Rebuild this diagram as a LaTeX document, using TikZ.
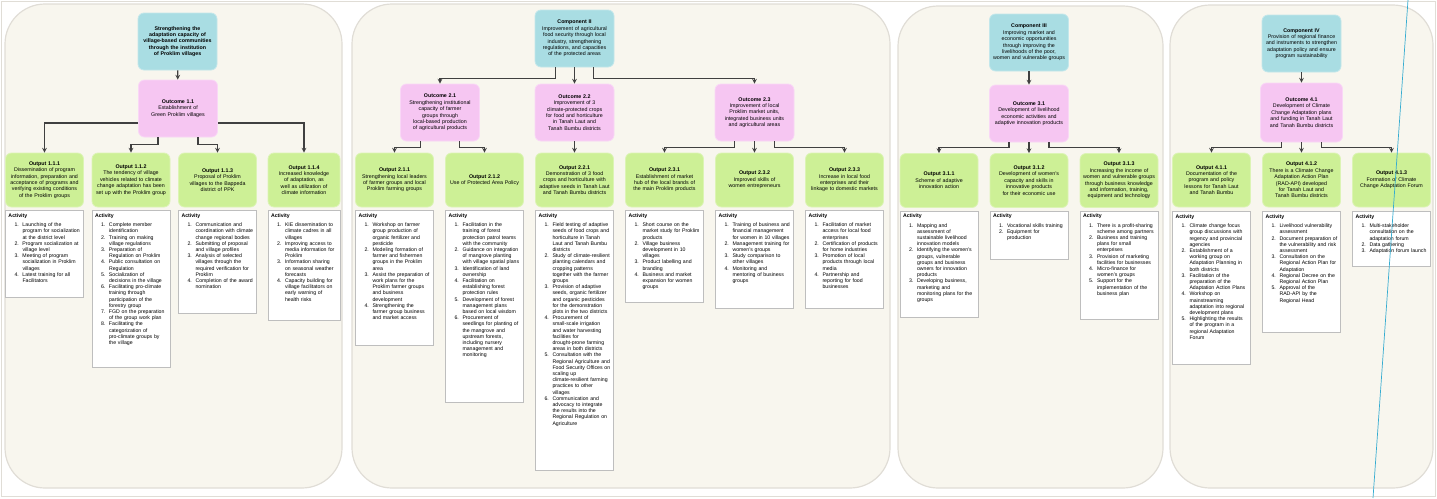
\documentclass[tikz,border=0pt]{standalone}
\usepackage{fontspec}
\setmainfont{Liberation Sans}
\usepackage{xcolor}
\usetikzlibrary{positioning}

\definecolor{panelcol}{HTML}{F8F6EE}
\definecolor{panelline}{HTML}{E0DDD6}
\definecolor{compcol}{HTML}{A9DDE3}
\definecolor{outccol}{HTML}{F6C6F2}
\definecolor{outpcol}{HTML}{CDF096}
\definecolor{actline}{HTML}{BEBEBE}
\definecolor{stray}{HTML}{35ACD0}

\hyphenpenalty=10000
\exhyphenpenalty=10000

\newcommand{\itm}[1]{\par\hangindent=14pt\hangafter=1\noindent\hspace*{6pt}\makebox[8pt][l]{#1.}}
\newcommand{\actlist}[2]{\parbox[t][#1][t]{\linewidth}{\raggedright\textbf{Activity}\par\vspace{3pt}#2}}

\begin{document}
\begin{tikzpicture}[x=1pt,y=-1pt,>=stealth,node distance=90pt,
    comp/.style={rectangle,rounded corners=6pt,fill=compcol,draw=compcol!70!white,line width=0.8pt,minimum width=79pt,minimum height=57pt,text width=73pt,inner sep=3pt,align=center,font=\fontsize{5.3}{6.4}\selectfont},
    outc/.style={comp,fill=outccol,draw=outccol!70!white},
    outp/.style={comp,fill=outpcol,draw=outpcol!70!white,minimum width=78pt,text width=72pt,minimum height=54pt},
    act/.style={rectangle,draw=actline,fill=white,line width=0.6pt,text width=72pt,inner sep=3pt,font=\fontsize{5.2}{6.2}\selectfont},
    panel/.style={draw=panelline,fill=panelcol,line width=1.2pt,rounded corners=40pt},
    conn/.style={->,draw=black!75,line width=1.1pt}]

                        \useasboundingbox (0,0) rectangle (1437,498);
                        \draw[panelline, line width=1pt] (1.5,1.5) rectangle (1435.5,496);

                        % panels
                        \draw[panel] (5,4) rectangle (342,488);
                        \draw[panel] (352,4) rectangle (890,488);
                        \draw[panel] (898,6) rectangle (1163,488);
                        \draw[panel] (1170,5) rectangle (1433,488);

                        % component 1
                        \node[comp] (c1) at (177.5,41.5) {\textbf{Strengthening the adaptation capacity of village-based communities through the institution of Proklim villages}};
                        \node[outc] (o11) at (178,108.5) {\textbf{Outcome 1.1}\\ Establishment of Green Proklim villages};

                        \node[outp] (p111) at (44.5,180) {\textbf{Output 1.1.1}\\ Dissemination of program information, preparation and acceptance of programs and verifying existing conditions of the Proklim groups};
                        \node[outp] (p112) [right of = p111, node distance=86.5pt]{\textbf{Output 1.1.2}\\ The tendency of village vehicles related to climate change adaptation has been set up with the Proklim group};
                        \node[outp] (p113) [right of = p112, node distance=86.5pt]{\textbf{Output 1.1.3}\\ Proposal of Proklim villages to the Bappeda district of PPK};
                        \node[outp, minimum width=72pt, text width=66pt] (p114) [right of = p113, node distance=86.5pt]{\textbf{Output 1.1.4}\\ Increased knowledge of adaptation, as well as utilization of climate information};

                        \node[act] (a111) [below=3pt of p111]{\actlist{81pt}{\itm{1}Launching of the program for socialization at the district level \itm{2}Program socialization at village level \itm{3}Meeting of program socialization in Proklim villages \itm{4}Latest training for all Facilitators}};
                        \node[act] (a112) [below=3pt of p112]{\actlist{151pt}{\itm{1}Complete member identification \itm{2}Training on making village regulations \itm{3}Preparation of Regulation on Proklim \itm{4}Public consultation on Regulation \itm{5}Socialization of decisions in the village \itm{6}Facilitating pro-climate training through participation of the forestry group \itm{7}FGD on the preparation of the group work plan \itm{8}Facilitating the categorization of pro-climate groups by the village}};
                        \node[act] (a113) [below=3pt of p113]{\actlist{97pt}{\itm{1}Communication and coordination with climate change regional bodies \itm{2}Submitting of proposal and village profiles \itm{3}Analysis of selected villages through the required verification for Proklim \itm{4}Completion of the award nomination}};
                        \node[act, text width=66pt] (a114) [below=3pt of p114]{\actlist{104pt}{\itm{1}KIE dissemination to climate cadres in all villages \itm{2}Improving access to media information for Proklim \itm{3}Information sharing on seasonal weather forecasts \itm{4}Capacity building for village facilitators on early warning of health risks}};

                        \draw[conn] (c1) to (o11);
                        \draw[conn] ([yshift=-14.5pt]o11.west) -| (p111);
                        \draw[conn] ([yshift=-14.5pt]o11.east) -| (p114);
                        \draw[conn] ([xshift=-20pt]o11.south) -- ++(0,-7pt) -| (p112);
                        \draw[conn] ([xshift=20pt]o11.south) -- ++(0,-7pt) -| (p113);

                        % component 2
                        \node[comp] (c2) at (574.5,38.5) {\textbf{Component II}\\ Improvement of agricultural food security through local industry, strengthening regulations, and capacities of the protected areas};
                        \node[outc] (o21) at (440,112.5) {\textbf{Outcome 2.1}\\ Strengthening institutional capacity of farmer groups through local-based production of agricultural products};
                        \node[outc] (o22) at (574.5,112.5) {\textbf{Outcome 2.2}\\ Improvement of 3 climate-protected crops for food and horticulture in Tanah Laut and Tanah Bumbu districts};
                        \node[outc] (o23) at (754.5,112.5) {\textbf{Outcome 2.3}\\ Improvement of local Proklim market units, integrated business units and agricultural areas};

                        \node[outp] (p211) at (394.5,180) {\textbf{Output 2.1.1}\\ Strengthening local leaders of farmer groups and local Proklim farming groups};
                        \node[outp] (p212) [right of = p211]{\textbf{Output 2.1.2}\\ Use of Protected Area Policy};
                        \node[outp] (p221) [right of = p212]{\textbf{Output 2.2.1}\\ Demonstration of 3 food crops and horticulture with adaptive seeds in Tanah Laut and Tanah Bumbu districts};
                        \node[outp] (p231) [right of = p221]{\textbf{Output 2.3.1}\\ Establishment of market hub of the local brands of the main Proklim products};
                        \node[outp] (p232) [right of = p231]{\textbf{Output 2.3.2}\\ Improved skills of women entrepreneurs};
                        \node[outp] (p233) [right of = p232]{\textbf{Output 2.3.3}\\ Increase in local food enterprises and their linkage to domestic markets};

                        \node[act] (a211) [below=3pt of p211]{\actlist{129pt}{\itm{1}Workshop on farmer group production of organic fertilizer and pesticide \itm{2}Modeling formation of farmer and fishermen groups in the Proklim area \itm{3}Assist the preparation of work plans for the Proklim farmer groups and business development \itm{4}Strengthening the farmer group business and market access}};
                        \node[act] (a212) [below=3pt of p212]{\actlist{186pt}{\itm{1}Facilitation in the training of forest protection patrol teams with the community \itm{2}Guidance on integration of mangrove planting with village spatial plans \itm{3}Identification of land ownership \itm{4}Facilitation on establishing forest protection rules \itm{5}Development of forest management plans based on local wisdom \itm{6}Procurement of seedlings for planting of the mangrove and upstream forests, including nursery management and monitoring}};
                        \node[act] (a221) [below=3pt of p221]{\actlist{254pt}{\itm{1}Field testing of adaptive seeds of food crops and horticulture in Tanah Laut and Tanah Bumbu districts \itm{2}Study of climate-resilient planting calendars and cropping patterns together with the farmer groups \itm{3}Provision of adaptive seeds, organic fertilizer and organic pesticides for the demonstration plots in the two districts \itm{4}Procurement of small-scale irrigation and water harvesting facilities for drought-prone farming areas in both districts \itm{5}Consultation with the Regional Agriculture and Food Security Offices on scaling up climate-resilient farming practices to other villages \itm{6}Communication and advocacy to integrate the results into the Regional Regulation on Agriculture}};
                        \node[act] (a231) [below=3pt of p231]{\actlist{86pt}{\itm{1}Short course on the market study for Proklim products \itm{2}Village business development in 10 villages \itm{3}Product labelling and branding \itm{4}Business and market expansion for women groups}};
                        \node[act] (a232) [below=3pt of p232]{\actlist{92pt}{\itm{1}Training of business and financial management for women in 10 villages \itm{2}Management training for women's groups \itm{3}Study comparison to other villages \itm{4}Monitoring and mentoring of business groups}};
                        \node[act] (a233) [below=3pt of p233]{\actlist{92pt}{\itm{1}Facilitation of market access for local food enterprises \itm{2}Certification of products for home industries \itm{3}Promotion of local products through local media \itm{4}Partnership and reporting for food businesses}};

                        \draw[conn] ([xshift=-19pt]c2.south) -- ++(0,-11pt) -| (o21);
                        \draw[conn] (c2) to (o22);
                        \draw[conn] ([xshift=19pt]c2.south) -- ++(0,-11pt) -| (o23);
                        \draw[conn] ([xshift=-19.5pt]o21.south) -- ++(0,-6pt) -| (p211);
                        \draw[conn] ([xshift=19.5pt]o21.south) -- ++(0,-6pt) -| (p212);
                        \draw[conn] (o22) to (p221);
                        \draw[conn] ([xshift=-20pt]o23.south) -- ++(0,-6pt) -| (p231);
                        \draw[conn] (o23) to (p232);
                        \draw[conn] ([xshift=20pt]o23.south) -- ++(0,-6pt) -| (p233);

                        % component 3
                        \node[comp] (c3) at (1029,42.5) {\textbf{Component III}\\ Improving market and economic opportunities through improving the livelihoods of the poor, women and vulnerable groups};
                        \node[outc] (o31) at (1029,113.5) {\textbf{Outcome 3.1}\\ Development of livelihood economic activities and adaptive innovation products};

                        \node[outp] (p311) at (939,180.5) {\textbf{Output 3.1.1}\\ Scheme of adaptive innovation action};
                        \node[outp] (p312) [right of = p311]{\textbf{Output 3.1.2}\\ Development of women's capacity and skills in innovative products for their economic use};
                        \node[outp] (p313) [right of = p312]{\textbf{Output 3.1.3}\\ Increasing the income of women and vulnerable groups through business knowledge and information, training, equipment and technology};

                        \node[act] (a311) [below=3pt of p311]{\actlist{100pt}{\itm{1}Mapping and assessment of sustainable livelihood innovation models \itm{2}Identifying the women's groups, vulnerable groups and business owners for innovation products \itm{3}Developing business, marketing and monitoring plans for the groups}};
                        \node[act] (a312) [below=3pt of p312]{\actlist{42pt}{\itm{1}Vocational skills training \itm{2}Equipment for production}};
                        \node[act] (a313) [below=3pt of p313]{\actlist{102pt}{\itm{1}There is a profit-sharing scheme among partners \itm{2}Business and training plans for small enterprises \itm{3}Provision of marketing facilities for businesses \itm{4}Micro-finance for women's groups \itm{5}Support for the implementation of the business plan}};

                        \draw[conn] (c3) to (o31);
                        \draw[conn] ([xshift=-20pt]o31.south) -- ++(0,-5pt) -| (p311);
                        \draw[conn] (o31) to (p312);
                        \draw[conn] ([xshift=20pt]o31.south) -- ++(0,-5pt) -| (p313);

                        % component 4
                        \node[comp] (c4) at (1301.5,43.5) {\textbf{Component IV}\\ Provision of regional finance and instruments to strengthen adaptation policy and ensure program sustainability};
                        \node[outc, minimum width=82pt, minimum height=59pt] (o41) at (1301.5,112.5) {\textbf{Outcome 4.1}\\ Development of Climate Change Adaptation plans and funding in Tanah Laut and Tanah Bumbu districts};

                        \node[outp] (p411) at (1211.5,180) {\textbf{Output 4.1.1}\\ Documentation of the program and policy lessons for Tanah Laut and Tanah Bumbu};
                        \node[outp] (p412) [right of = p411]{\textbf{Output 4.1.2}\\ There is a Climate Change Adaptation Action Plan (RAD-API) developed for Tanah Laut and Tanah Bumbu districts};
                        \node[outp] (p413) [right of = p412]{\textbf{Output 4.1.3}\\ Formation of Climate Change Adaptation Forum};

                        \node[act] (a411) [below=4pt of p411]{\actlist{147pt}{\itm{1}Climate change focus group discussions with regency and provincial agencies \itm{2}Establishment of a working group on Adaptation Planning in both districts \itm{3}Facilitation of the preparation of the Adaptation Action Plans \itm{4}Workshop on mainstreaming adaptation into regional development plans \itm{5}Highlighting the results of the program in a regional Adaptation Forum}};
                        \node[act] (a412) [below=4pt of p412]{\actlist{115pt}{\itm{1}Livelihood vulnerability assessment \itm{2}Document preparation of the vulnerability and risk assessment \itm{3}Consultation on the Regional Action Plan for Adaptation \itm{4}Regional Decree on the Regional Action Plan \itm{5}Approval of the RAD-API by the Regional Head}};
                        \node[act] (a413) [below=4pt of p413]{\actlist{49pt}{\itm{1}Multi-stakeholder consultation on the adaptation forum \itm{2}Data gathering \itm{3}Adaptation forum launch}};

                        \draw[conn] (c4) to (o41);
                        \draw[conn] ([xshift=-20pt]o41.south) -- ++(0,-5pt) -| (p411);
                        \draw[conn] (o41) to (p412);
                        \draw[conn] ([xshift=20pt]o41.south) -- ++(0,-5pt) -| (p413);

                        \draw[stray, line width=0.7pt] (1408,0) -- (1373,498);
                        ;
                    \end{tikzpicture}
\end{document}
